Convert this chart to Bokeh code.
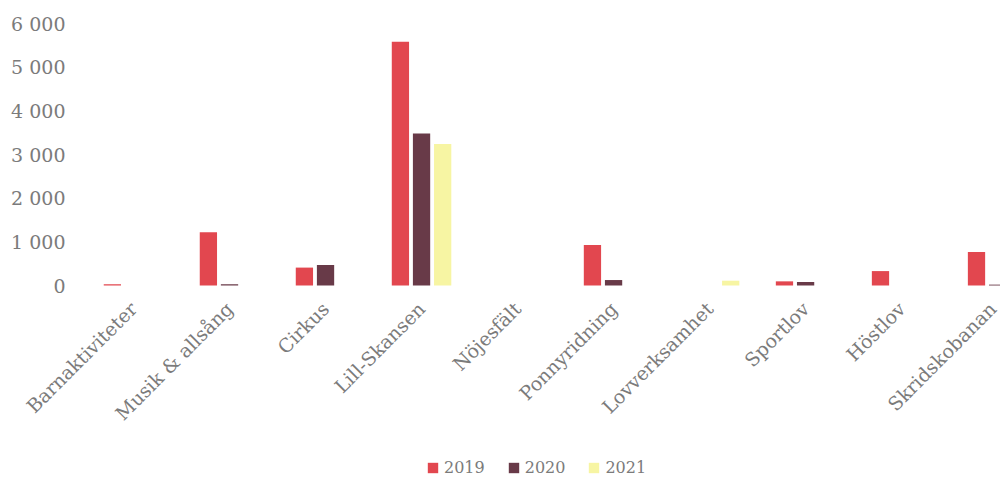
from bokeh.plotting import figure
from bokeh.models import ColumnDataSource, Range1d, FixedTicker, Legend, LegendItem
from bokeh.embed import file_html
from bokeh.resources import INLINE

categories = ["Barnaktiviteter", "Musik & allsång", "Cirkus", "Lill-Skansen", "Nöjesfält",
              "Ponnyridning", "Lovverksamhet", "Sportlov", "Höstlov", "Skridskobanan"]
years = ["2019", "2020", "2021"]
v2019 = [30, 1220, 410, 5580, 0, 930, 0, 95, 330, 770]
v2020 = [0, 30, 470, 3480, 0, 125, 0, 80, 0, 20]
v2021 = [0, 0, 0, 3240, 0, 0, 110, 0, 0, 0]
y_ticks = [0, 1000, 2000, 3000, 4000, 5000, 6000]
y_tick_labels = ["0", "1 000", "2 000", "3 000", "4 000", "5 000", "6 000"]
colors = ["#e2474f", "#683a48", "#f7f5a3"]

FONT = "DejaVu Serif"
GREY = "#7b7b7b"

W, H = 1000, 479
TOP, LEFT = 23, 85
PLOT_PX = 262            # pixels from 0 to 6000
YMAX = 6000
XMIN, XMAX = -0.5, 9.03
units_per_px = YMAX / PLOT_PX
below_px = H - TOP - PLOT_PX
ymin = -below_px * units_per_px
yend = YMAX + TOP * units_per_px
px_per_unit = (W - LEFT) / (XMAX - XMIN)
xstart = XMIN - LEFT / px_per_unit

p = figure(width=W, height=H, output_backend="svg", toolbar_location=None,
           x_range=Range1d(xstart, XMAX), y_range=Range1d(ymin, yend),
           min_border_left=0, min_border_right=0, min_border_top=0, min_border_bottom=0)
p.outline_line_color = None
p.xgrid.grid_line_color = None
p.ygrid.grid_line_color = None

series = [v2019, v2020, v2021]
offsets = [-0.22, 0.0, 0.22]
items = []
for yr, vals, off, col in zip(years, series, offsets, colors):
    src = ColumnDataSource(dict(x=[i + off for i in range(len(categories))], top=vals))
    r = p.vbar(x="x", top="top", bottom=0, width=0.18, source=src,
               fill_color=col, line_color=None)
    items.append(LegendItem(label=yr, renderers=[r]))

# x axis, pinned at y = 0
p.xaxis.fixed_location = 0
p.xaxis.ticker = FixedTicker(ticks=list(range(len(categories))))
p.xaxis.major_label_overrides = {i: c for i, c in enumerate(categories)}
p.xaxis.major_label_orientation = 3.14159265 / 4
p.xaxis.axis_line_color = None
p.xaxis.major_tick_line_color = None
p.xaxis.minor_tick_line_color = None
p.xaxis.major_tick_out = 0
p.xaxis.major_tick_in = 0
p.xaxis.major_label_standoff = 20
p.xaxis.major_label_text_font = FONT
p.xaxis.major_label_text_font_size = "19px"
p.xaxis.major_label_text_color = GREY

# y axis, pinned at the left edge of the bar area
p.yaxis.fixed_location = XMIN
p.yaxis.ticker = FixedTicker(ticks=y_ticks)
p.yaxis.major_label_overrides = {t: l for t, l in zip(y_ticks, y_tick_labels)}
p.yaxis.axis_line_color = None
p.yaxis.major_tick_line_color = None
p.yaxis.minor_tick_line_color = None
p.yaxis.major_tick_out = 0
p.yaxis.major_tick_in = 0
p.yaxis.major_label_standoff = 20
p.yaxis.major_label_text_font = FONT
p.yaxis.major_label_text_font_size = "19px"
p.yaxis.major_label_text_color = GREY

legend = Legend(items=items, orientation="horizontal", location=(426, 2),
                glyph_width=13, glyph_height=13, label_standoff=5, spacing=22,
                label_text_font=FONT, label_text_font_size="16px",
                label_text_color=GREY, border_line_color=None,
                padding=0, margin=0, background_fill_alpha=0)
p.add_layout(legend, "center")

open("out.html", "w").write(file_html(p, INLINE))
